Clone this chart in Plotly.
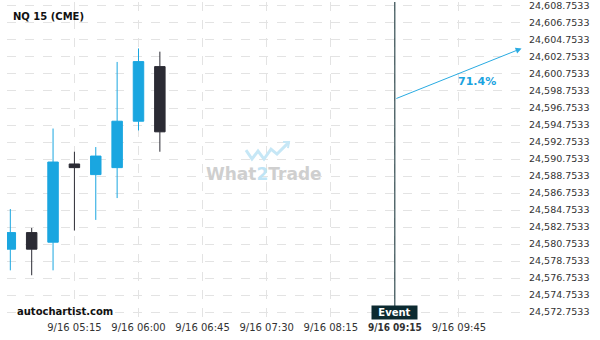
import plotly.graph_objects as go

# ---- data ----
times = ["2025-09-16 04:30", "2025-09-16 04:45", "2025-09-16 05:00", "2025-09-16 05:15",
         "2025-09-16 05:30", "2025-09-16 05:45", "2025-09-16 06:00", "2025-09-16 06:15"]
opens  = [24580.15, 24582.10, 24580.97, 24590.17, 24588.92, 24589.74, 24595.20, 24601.62]
highs  = [24584.87, 24582.65, 24594.34, 24591.61, 24592.16, 24602.17, 24603.76, 24603.38]
lows   = [24577.66, 24577.08, 24577.66, 24582.34, 24583.59, 24586.16, 24594.11, 24591.61]
closes = [24582.10, 24580.15, 24590.40, 24589.74, 24591.10, 24595.20, 24602.21, 24593.95]

tick_times = ["2025-09-16 05:15", "2025-09-16 06:00", "2025-09-16 06:45", "2025-09-16 07:30",
              "2025-09-16 08:15", "2025-09-16 09:00", "2025-09-16 09:45"]
tick_labels = ["9/16 05:15", "9/16 06:00", "9/16 06:45", "9/16 07:30",
               "9/16 08:15",
               "<span style='font-family:DejaVu Sans Condensed'><b>9/16 09:15</b></span>",
               "9/16 09:45"]

y_ticks = [24572.7533 + 2 * i for i in range(19)]
y_labels = [f"{v:,.4f}" for v in y_ticks]

event_time = "2025-09-16 09:00"
arrow_start = ("2025-09-16 09:00", 24597.80)
arrow_end = ("2025-09-16 10:29", 24603.76)
prob_label = "71.4%"
prob_pos = ("2025-09-16 09:58", 24599.85)

x_range = ["2025-09-16 04:27:40", "2025-09-16 10:33:30"]
y_range = [24571.82, 24609.22]

BLUE = "#1aa6e0"
DARK = "#2b2b34"
GRID = "#e3e3e3"
FONT = "DejaVu Sans"

fig = go.Figure()
fig.add_trace(go.Candlestick(
    x=times, open=opens, high=highs, low=lows, close=closes,
    increasing=dict(line=dict(color=BLUE, width=1), fillcolor=BLUE),
    decreasing=dict(line=dict(color=DARK, width=1), fillcolor=DARK),
    whiskerwidth=0, showlegend=False, hoverinfo="skip",
))

fig.update_layout(
    width=600, height=340,
    margin=dict(l=7, r=72, t=0, b=20),
    paper_bgcolor="white", plot_bgcolor="white",
    font=dict(family=FONT, size=10, color="#333333"),
    xaxis=dict(
        type="date", range=x_range, rangeslider=dict(visible=False),
        tickvals=tick_times, ticktext=tick_labels,
        showgrid=True, gridcolor=GRID, griddash="dash", gridwidth=1,
        zeroline=False, showline=False, ticks="",
        tickfont=dict(family=FONT, size=10, color="#333333"),
        ticklabeloverflow="allow",
    ),
    yaxis=dict(
        side="right", range=y_range,
        tickvals=y_ticks, ticktext=y_labels,
        showgrid=True, gridcolor=GRID, griddash="dash", gridwidth=1,
        zeroline=False, showline=False, ticks="",
        tickfont=dict(family=FONT, size=9.5, color="#333333"),
        ticklabeloverflow="allow",
    ),
)

# event line
fig.add_shape(type="line", xref="x", yref="paper", x0=event_time, x1=event_time,
              y0=0.03, y1=1, line=dict(color="#0c2a30", width=1))

annotations = [
    dict(text="<b>NQ 15 (CME)</b>", xref="paper", yref="paper", x=0, y=1,
         xanchor="left", yanchor="middle", xshift=4, yshift=-14, showarrow=False,
         font=dict(family=FONT, size=10, color="#111111")),
    dict(text="<b>autochartist.com</b>", xref="paper", yref="paper", x=0, y=0,
         xanchor="left", yanchor="middle", xshift=8, yshift=9, showarrow=False,
         font=dict(family=FONT, size=10, color="#111111")),
    dict(text="<b>Event</b>", xref="x", yref="paper", x=event_time, y=0,
         xanchor="center", yanchor="bottom", showarrow=False, bgcolor="#0c2a30",
         width=45, height=13, borderpad=0,
         font=dict(family=FONT, size=10, color="white")),
    dict(x=arrow_end[0], y=arrow_end[1], ax=arrow_start[0], ay=arrow_start[1],
         xref="x", yref="y", axref="x", ayref="y", text="", showarrow=True,
         arrowhead=2, arrowsize=1.2, arrowwidth=1, arrowcolor="#29abe2"),
    dict(text=f"<b>{prob_label}</b>", x=prob_pos[0], y=prob_pos[1], xref="x", yref="y",
         showarrow=False, font=dict(family=FONT, size=11, color="#1ba3e0")),
    dict(text="<b>What<span style='color:#bfe4f5'>2</span>Trade</b>", xref="paper", yref="paper",
         x=(264 - 7) / 521, y=1 - 173 / 320, showarrow=False,
         font=dict(family=FONT, size=17, color="#cfcfcf")),
]
fig.update_layout(annotations=annotations)

# watermark icon (decoration)
def px(xp, yp):
    return (xp - 7) / 521, 1 - yp / 320
pts = [(246, 149), (252, 158), (258, 150), (264, 158), (271, 148), (277, 153), (289, 141)]
path = "M " + " L ".join(f"{px(a, b)[0]:.4f},{px(a, b)[1]:.4f}" for a, b in pts)
fig.add_shape(type="path", xref="paper", yref="paper", path=path,
              line=dict(color="#c6e7f6", width=3))
hp = [(283, 141), (289, 141), (288, 147)]
path2 = "M " + " L ".join(f"{px(a, b)[0]:.4f},{px(a, b)[1]:.4f}" for a, b in hp)
fig.add_shape(type="path", xref="paper", yref="paper", path=path2,
              line=dict(color="#c6e7f6", width=2))

fig.write_html("out.html")
